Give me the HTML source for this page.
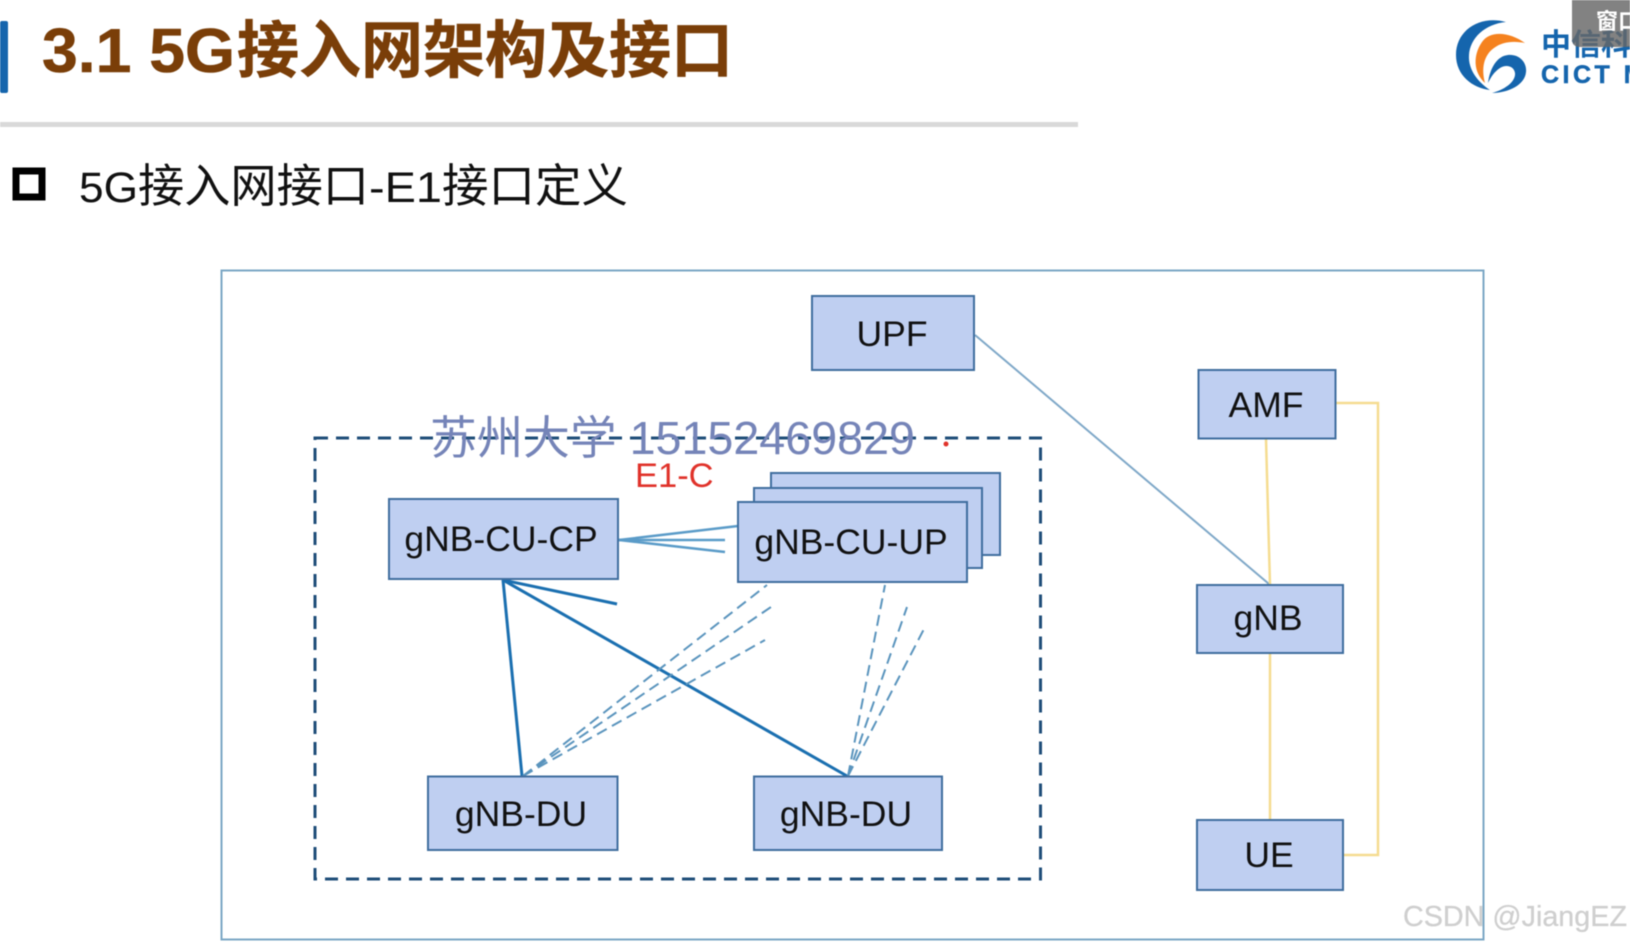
<!DOCTYPE html>
<html lang="zh">
<head>
<meta charset="utf-8">
<style>
html,body{margin:0;padding:0;background:#fff;width:1630px;height:944px;overflow:hidden}
svg{display:block;filter:blur(.45px)}
text{font-family:"Liberation Sans","Noto Sans CJK SC",sans-serif}
.b{fill:#bfcff1;stroke:#3f6d9e;stroke-width:2}
.l{font-size:35.500px;fill:#111;text-anchor:middle}
.s{font-size:43px;fill:#111}
.t{font-size:62px;font-weight:700;fill:#7a3e08;stroke:#7a3e08;stroke-width:.6}
</style>
</head>
<body>
<svg width="1630" height="944" viewBox="0 0 1630 944" xmlns="http://www.w3.org/2000/svg">
<rect x="0" y="21" width="8" height="72" rx="2" fill="#1565ad"/>
<text class="t" x="42" y="72" textLength="193" lengthAdjust="spacingAndGlyphs">3.1 5G</text>
<text class="t" x="237" y="72">接入网架构及接口</text>
<rect x="0" y="122" width="1078" height="5" fill="#d9d9d9"/>
<rect x="16" y="171" width="26" height="26" fill="none" stroke="#000" stroke-width="7"/>
<text class="s" x="79" y="202" textLength="59" lengthAdjust="spacingAndGlyphs">5G</text>
<text class="s" x="138" y="202" style="font-size:46px" textLength="231" lengthAdjust="spacingAndGlyphs">接入网接口</text>
<text class="s" x="369" y="202" textLength="73" lengthAdjust="spacingAndGlyphs">-E1</text>
<text class="s" x="442" y="202" style="font-size:46px" textLength="186" lengthAdjust="spacingAndGlyphs">接口定义</text>

<!-- logo -->
<path d="M1506,22 C1480,15 1456,30 1456,55 C1456,75 1472,88 1490,90 C1478,82 1468,70 1469,55 C1470,38 1485,24 1506,22Z" fill="#1565ad"/>
<path d="M1525,43 C1510,32 1490,30 1482,42 C1473,55 1473,72 1485,83 C1481,68 1484,55 1494,48 C1503,41 1515,41 1525,43Z" fill="#f5821f"/>
<path d="M1488,83 C1490,68 1497,56 1508,55 C1520,54 1527,63 1526,72 C1525,85 1508,93 1492,93 C1504,90 1516,82 1515,73 C1514,66 1506,64 1500,68 C1494,72 1491,77 1488,83Z" fill="#1565ad"/>
<text x="1541" y="55" font-size="30" font-weight="700" fill="#1565ad">中信科</text>
<text x="1541" y="83" font-size="25" font-weight="700" fill="#1565ad" stroke="#1565ad" stroke-width=".5" letter-spacing="3.500">CICT M</text>
<path d="M1572,0 H1630 V47 H1580 Q1572,47 1572,39Z" fill="#666" fill-opacity=".82"/>
<text x="1596" y="29" font-size="22" font-weight="700" fill="#fff">窗口</text>

<!-- outer frame -->
<rect x="221.500" y="270.500" width="1262" height="669" fill="none" stroke="#7ba7c4" stroke-width="2"/>
<!-- dashed group -->
<rect x="315" y="438" width="725.500" height="441" fill="none" stroke="#1f4e79" stroke-width="3" stroke-dasharray="13 8"/>

<!-- right side connectors -->
<line x1="975" y1="335" x2="1269" y2="584" stroke="#7fa8c8" stroke-width="2"/>
<g fill="none" stroke="#f5dc90" stroke-width="2.500">
<line x1="1266" y1="439" x2="1270" y2="585"/>
<line x1="1270" y1="653" x2="1270" y2="820"/>
<polyline points="1336,403 1378,403 1378,855 1343,855"/>
</g>

<!-- CU-CP lines -->
<g stroke="#5a9bc8" stroke-width="2.500">
<line x1="619" y1="540" x2="738" y2="526"/>
<line x1="619" y1="540" x2="725" y2="540"/>
<line x1="619" y1="540" x2="725" y2="552"/>
</g>
<g stroke="#1a6fb0" stroke-width="3">
<line x1="503" y1="580" x2="617" y2="604"/>
<line x1="503" y1="580" x2="522" y2="776"/>
<line x1="503" y1="580" x2="847" y2="776"/>
</g>
<g stroke="#5a94bd" stroke-width="2" stroke-dasharray="11 6">
<line x1="523" y1="776" x2="767" y2="585"/>
<line x1="523" y1="776" x2="771" y2="607"/>
<line x1="523" y1="776" x2="765" y2="640"/>
<line x1="848" y1="776" x2="885" y2="585"/>
<line x1="848" y1="776" x2="907" y2="607"/>
<line x1="848" y1="776" x2="925" y2="627"/>
</g>

<!-- boxes -->
<rect class="b" x="812" y="296" width="162" height="74"/>
<text class="l" x="892" y="346">UPF</text>
<rect class="b" x="1198.500" y="370" width="137" height="68.500"/>
<text class="l" x="1266" y="417">AMF</text>
<rect class="b" x="1197" y="585" width="146" height="68"/>
<text class="l" x="1268" y="630">gNB</text>
<rect class="b" x="1197" y="820" width="146" height="70"/>
<text class="l" x="1269" y="867">UE</text>
<rect class="b" x="389" y="499" width="229" height="80"/>
<text class="l" x="501" y="551">gNB-CU-CP</text>
<rect class="b" x="771" y="473" width="229" height="82"/>
<rect class="b" x="754" y="488" width="228" height="80"/>
<rect class="b" x="738" y="502" width="229" height="80"/>
<text class="l" x="851" y="554">gNB-CU-UP</text>
<rect class="b" x="428" y="776.500" width="189.500" height="73.500"/>
<text class="l" x="521" y="826">gNB-DU</text>
<rect class="b" x="754" y="776.500" width="188" height="73.500"/>
<text class="l" x="846" y="826">gNB-DU</text>

<!-- labels -->
<text x="635" y="487" font-size="34.500" fill="#e0322a">E1-C</text>
<text x="430" y="454" font-size="46" fill="#7584b8" textLength="485" lengthAdjust="spacingAndGlyphs">苏州大学 15152469829</text>
<circle cx="946" cy="444" r="2.500" fill="#e0322a"/>
<text x="1403" y="926" font-size="29" fill="#cfcfcf" stroke="#cfcfcf" stroke-width=".3" textLength="224" lengthAdjust="spacingAndGlyphs">CSDN @JiangEZ</text>
</svg>
</body>
</html>
